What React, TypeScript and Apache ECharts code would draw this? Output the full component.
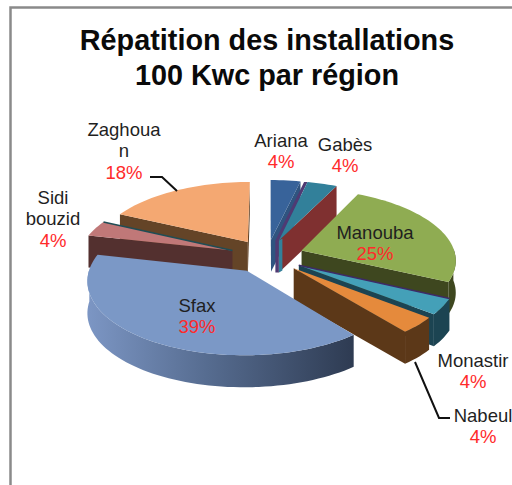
import React, { useEffect, useRef } from "react";
import * as echarts from "echarts";

const categories = ["Ariana", "Gabès", "Manouba", "Monastir", "Nabeul", "Sfax", "Sidi bouzid", "Zaghouan"];
const values = [1, 1, 7, 1, 1, 11, 1, 5];
const labelLines = [["Ariana"], ["Gabès"], ["Manouba"], ["Monastir"], ["Nabeul"], ["Sfax"], ["Sidi", "bouzid"], ["Zaghoua", "n"]];
const labelPos = [[281, 140], [345, 144], [375, 232], [473, 360], [483, 415], [197, 305], [53, 197], [124, 129]];
const topColors = ["#38639a", "#32809a", "#8fac52", "#44a0b8", "#e58a3c", "#7b98c6", "#c07878", "#f4a872"];
const wallColors = ["#2f5480", "#7f3030", "#3e471f", "#1c4452", "#5c3818", "#3a4a66", "#53302f", "#644427"];
const paintOrder = [0, 1, 7, 6, 2, 3, 4, 5];

const CX = 267, CY = 256, R = 154, RK = 70.5, P = 0.121, EXPLODE = 0.24, DEPTH = 32;

const total = values.reduce((a, b) => a + b, 0);
const rad = (d: number) => (d * Math.PI) / 180;

function project(X: number, Y: number, down: boolean): number[] {
  const w = 1 - P * Y;
  return [CX + (R * X) / w, CY + (RK * Y) / w + (down ? DEPTH : 0)];
}

function renderSlice(_params: any, api: any) {
  const i = api.value(0);
  let before = 0;
  for (let k = 0; k < i; k++) before += values[k];
  const t0 = (before / total) * 360;
  const t1 = ((before + values[i]) / total) * 360;
  const mid = rad((t0 + t1) / 2);
  const ex = EXPLODE * Math.sin(mid);
  const ey = -EXPLODE * Math.cos(mid);
  const pt = (t: number, r: number, down: boolean) =>
    project(ex + r * Math.sin(rad(t)), ey - r * Math.cos(rad(t)), down);

  const steps = Math.max(4, Math.ceil((t1 - t0) / 2));
  const ts: number[] = [];
  for (let s = 0; s <= steps; s++) ts.push(t0 + ((t1 - t0) * s) / steps);

  const top = [pt(0, 0, false), ...ts.map((t) => pt(t, 1, false))];
  const children: any[] = [];
  const name = categories[i];
  const add = (pts: number[][], fill: any) =>
    children.push({ type: "polygon", shape: { points: pts }, style: { fill, stroke: "none" } });

  const a0 = pt(t0, 1, false), a1 = pt(t1, 1, false), ap = pt(0, 0, false), apD = pt(0, 0, true);
  if (name === "Gabès") {
    // thin purple facet seen between the two narrow back slices
    add([[a0[0] - 3.5, a0[1]], a0, ap, apD, [apD[0] - 3.5, apD[1]], [ap[0] - 3.5, ap[1]]], "#4f3a73");
  }
  if (a0[0] < ap[0]) add([ap, a0, pt(t0, 1, true), apD], wallColors[i]);
  if (a1[0] > ap[0]) add([ap, a1, pt(t1, 1, true), apD], wallColors[i]);
  const frontT = ts.filter((t) => Math.cos(rad(t)) < 0.05);
  if (frontT.length > 1) {
    const fill = name === "Sfax"
      ? new echarts.graphic.LinearGradient(0, 0, 1, 0, [
          { offset: 0, color: "#7c96c4" },
          { offset: 0.45, color: "#566c90" },
          { offset: 1, color: "#2e3b52" },
        ])
      : wallColors[i];
    add([...frontT.map((t) => pt(t, 1, false)), ...frontT.slice().reverse().map((t) => pt(t, 1, true))], fill);
  }
  if (name === "Gabès") {
    add([ap, [ap[0] + 3.5, ap[1] - 2], [apD[0] + 3.5, apD[1] - 2], apD], topColors[i]);
  }
  add(top, topColors[i]);
  if (name === "Monastir") {
    children.push({ type: "line", shape: { x1: ap[0], y1: ap[1], x2: a0[0], y2: a0[1] }, style: { stroke: "#3d2b66", lineWidth: 1.5 } });
  }
  if (name === "Sidi bouzid") {
    children.push({ type: "line", shape: { x1: ap[0], y1: ap[1], x2: a1[0], y2: a1[1] }, style: { stroke: "#1f4d55", lineWidth: 1.5 } });
  }
  return { type: "group", children };
}

const LABEL_FONT = "Liberation Sans";
const LINE_H = 21.5;
const percent = (v: number) => `${Math.round((v / total) * 100)}%`;

function labelGraphics() {
  const out: any[] = [];
  categories.forEach((_, i) => {
    const [x, y] = labelPos[i];
    const lines = labelLines[i];
    lines.forEach((line, j) => {
      out.push({
        type: "text", x, y: y + j * LINE_H,
        style: { text: line, fill: "#1f1f1f", font: `18.5px "${LABEL_FONT}"`, align: "center", verticalAlign: "middle" },
      });
    });
    out.push({
      type: "text", x, y: y + lines.length * LINE_H,
      style: { text: percent(values[i]), fill: "#ff2a2a", font: `18.5px "${LABEL_FONT}"`, align: "center", verticalAlign: "middle" },
    });
  });
  return out;
}

export default function App() {
  const ref = useRef<HTMLDivElement>(null);
  useEffect(() => {
    const chart = echarts.init(ref.current!, undefined, { renderer: "svg" });
    chart.setOption({
      animation: false,
      backgroundColor: "#ffffff",
      title: {
        text: "Répatition des installations\n100 Kwc par région",
        left: 262, top: 17, textAlign: "center",
        textStyle: { fontFamily: LABEL_FONT, fontWeight: "bold", fontSize: 28.8, lineHeight: 35, color: "#0a0a0a" },
      },
      graphic: [
        { type: "polyline", shape: { points: [[10.5, 490], [10.5, 7.5], [520, 7.5]] }, style: { stroke: "#8a8a8a", lineWidth: 2.5, fill: "none" }, z: 0 },
        { type: "polyline", shape: { points: [[150, 177], [162, 177], [177, 191]] }, style: { stroke: "#111", lineWidth: 2, fill: "none" }, z: 5 },
        { type: "polyline", shape: { points: [[415, 362], [439, 418], [450, 418]] }, style: { stroke: "#111", lineWidth: 2, fill: "none" }, z: 5 },
        ...labelGraphics().map((g) => ({ ...g, z: 10 })),
      ],
      series: [
        {
          type: "custom",
          coordinateSystem: "none",
          renderItem: renderSlice,
          data: paintOrder.map((i) => ({ name: categories[i], value: [i, values[i]] })),
          z: 2,
        },
      ],
    });
    return () => chart.dispose();
  }, []);
  return <div ref={ref} style={{ position: "absolute", left: 0, top: 0, width: 512, height: 485 }} />;
}
